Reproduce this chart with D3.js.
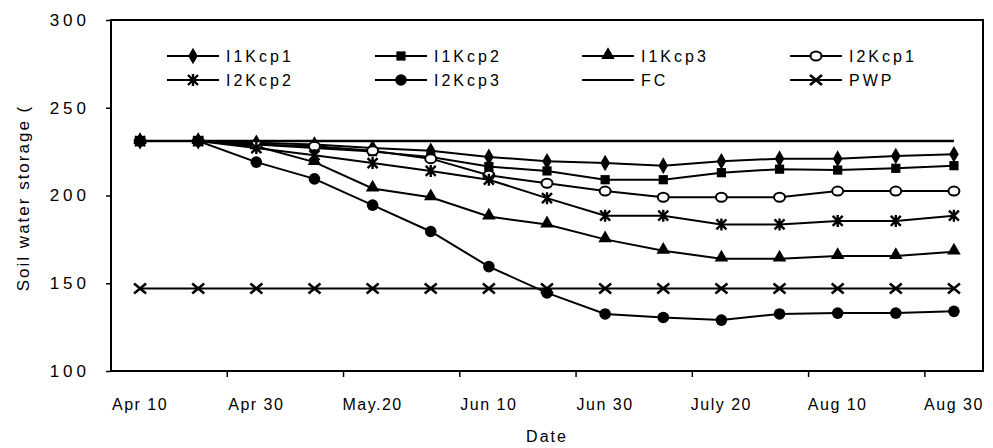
<!DOCTYPE html>
<html>
<head>
<meta charset="utf-8">
<script src="https://cdn.jsdelivr.net/npm/d3@7"></script>
<style>
  body { margin: 0; background: #fff; }
  svg text { font-family: "Liberation Sans", Arial, sans-serif; fill: #000; }
</style>
</head>
<body>
<svg id="chart" width="993" height="448"></svg>
<script>
(function() {

  var dates = ["Apr 10", "Apr 20", "Apr 30", "May 10", "May.20", "May 30", "Jun 10", "Jun 20",
    "Jun 30", "Jul 10", "July 20", "Jul 30", "Aug 10", "Aug 20", "Aug 30"];
  var dateLabels = ["Apr 10", "Apr 30", "May.20", "Jun 10", "Jun 30", "July 20", "Aug 10", "Aug 30"];
  var yTicks = [100, 150, 200, 250, 300];

  var i1kcp1 = [231, 231, 230, 229, 227, 225.5, 222, 219.5, 218.5, 217, 219.5, 221, 221, 222.5, 223.5];
  var i1kcp2 = [231, 231, 229, 227, 225, 222, 216.5, 214, 209, 209, 213, 215, 214.5, 215.5, 217];
  var i1kcp3 = [231, 231, 228, 219, 204, 199, 188, 183.5, 175, 168.5, 164, 164, 165.5, 165.5, 168];
  var i2kcp1 = [231, 231, 229, 228, 225.5, 221, 211.5, 207, 202.5, 199, 199, 199, 202.5, 202.5, 202.5];
  var i2kcp2 = [231, 231, 227, 223, 218.5, 214, 209, 198.5, 188.5, 188.5, 183.5, 183.5, 185.5, 185.5, 188.5];
  var i2kcp3 = [231, 231, 219, 209.5, 194.5, 179.5, 159.5, 144.5, 132.5, 130.5, 129, 132.5, 133, 133, 134];
  var fc = [231, 231, 231, 231, 231, 231, 231, 231, 231, 231, 231, 231, 231, 231, 231];
  var pwp = [147, 147, 147, 147, 147, 147, 147, 147, 147, 147, 147, 147, 147, 147, 147];

  var series = [
    { name: "I1Kcp1", values: i1kcp1, marker: "diamond" },
    { name: "I1Kcp2", values: i1kcp2, marker: "square" },
    { name: "I1Kcp3", values: i1kcp3, marker: "triangle" },
    { name: "I2Kcp1", values: i2kcp1, marker: "opencircle" },
    { name: "I2Kcp2", values: i2kcp2, marker: "star" },
    { name: "I2Kcp3", values: i2kcp3, marker: "circle" },
    { name: "FC", values: fc, marker: "none" },
    { name: "PWP", values: pwp, marker: "cross" }
  ];

  var left = 111, right = 983, top = 20, bottom = 371;
  var svg = d3.select("#chart");

  var x = d3.scaleBand().domain(dates).range([left, right]).padding(0);
  var y = d3.scaleLinear().domain([100, 300]).range([bottom, top]);
  var cx = function(d) { return x(d) + x.bandwidth() / 2; };

  // plot frame
  svg.append("rect")
      .attr("x", left).attr("y", top)
      .attr("width", right - left).attr("height", bottom - top)
      .style("fill", "none").style("stroke", "#000").style("stroke-width", 2);

  // y axis
  var yAxis = svg.append("g")
      .attr("transform", "translate(" + left + ",0)")
      .call(d3.axisLeft(y).tickValues(yTicks).tickSize(5).tickPadding(16));
  yAxis.select(".domain").remove();
  yAxis.selectAll("line").style("stroke-width", 1.5);
  yAxis.selectAll("text")
      .style("font-size", "17px").style("letter-spacing", "4px");

  // x axis labels
  var xAxis = svg.append("g")
      .attr("transform", "translate(0," + bottom + ")")
      .call(d3.axisBottom(x).tickValues(dateLabels).tickSize(0).tickPadding(28));
  xAxis.select(".domain").remove();
  xAxis.selectAll("text")
      .style("font-size", "16px").style("letter-spacing", "1.5px");

  // x ticks on every second category boundary
  svg.append("g").selectAll("line")
      .data(dates.filter(function(d, i) { return i % 2 === 0 && i > 0; }))
    .enter().append("line")
      .attr("x1", function(d) { return x(d); }).attr("x2", function(d) { return x(d); })
      .attr("y1", bottom).attr("y2", bottom + 6)
      .style("stroke", "#000").style("stroke-width", 1.5);

  // axis titles
  svg.append("text")
      .attr("x", (left + right) / 2).attr("y", 442)
      .attr("text-anchor", "middle")
      .style("font-size", "16px").style("letter-spacing", "2px")
      .text("Date");

  svg.append("text")
      .attr("transform", "translate(29,198) rotate(-90)")
      .attr("text-anchor", "middle")
      .style("font-size", "17px").style("letter-spacing", "2px")
      .text("Soil water storage (");

  function drawMarker(g, type) {
    if (type === "none") return;
    if (type === "diamond") {
      g.append("path").attr("d", d3.symbol(d3.symbolDiamond, 80)()).style("fill", "#000");
    } else if (type === "square") {
      g.append("path").attr("d", d3.symbol(d3.symbolSquare, 85)()).style("fill", "#000");
    } else if (type === "triangle") {
      g.append("path").attr("d", d3.symbol(d3.symbolTriangle, 80)())
          .attr("transform", "translate(0,-1)").style("fill", "#000");
    } else if (type === "circle") {
      g.append("circle").attr("r", 5.8).style("fill", "#000");
    } else if (type === "opencircle") {
      g.append("ellipse").attr("rx", 5.5).attr("ry", 4.5)
          .style("fill", "#fff").style("stroke", "#000").style("stroke-width", 2);
    } else if (type === "star") {
      g.append("path").attr("d", "M-5,-5L5,5M-5,5L5,-5M0,-6L0,6")
          .style("stroke", "#000").style("stroke-width", 2.4);
    } else if (type === "cross") {
      g.append("path").attr("d", "M-6,-5L6,5M-6,5L6,-5")
          .style("stroke", "#000").style("stroke-width", 2.5);
    }
  }

  var line = d3.line()
      .x(function(d, i) { return cx(dates[i]); })
      .y(function(d) { return y(d); });

  series.forEach(function(s) {
    svg.append("path")
        .datum(s.values)
        .attr("d", line)
        .style("fill", "none").style("stroke", "#000")
        .style("stroke-width", s.name === "FC" ? 2.5 : 2);

    svg.append("g").selectAll("g")
        .data(s.values)
      .enter().append("g")
        .attr("transform", function(d, i) { return "translate(" + cx(dates[i]) + "," + y(d) + ")"; })
        .each(function() { drawMarker(d3.select(this), s.marker); });
  });

  // legend
  var legendCols = [167, 375, 582, 790];
  var legendRows = [56, 80];
  series.forEach(function(s, i) {
    var lx = legendCols[i % 4], ly = legendRows[Math.floor(i / 4)];
    var g = svg.append("g").attr("transform", "translate(" + lx + "," + ly + ")");
    g.append("line").attr("x1", 0).attr("x2", 52).attr("y1", 0).attr("y2", 0)
        .style("stroke", "#000").style("stroke-width", 2);
    var m = g.append("g").attr("transform", "translate(26,0)");
    drawMarker(m, s.marker);
    g.append("text").attr("x", 59).attr("y", 6)
        .style("font-size", "16px").style("letter-spacing", "3px")
        .text(s.name);
  });

})();
</script>
</body>
</html>
